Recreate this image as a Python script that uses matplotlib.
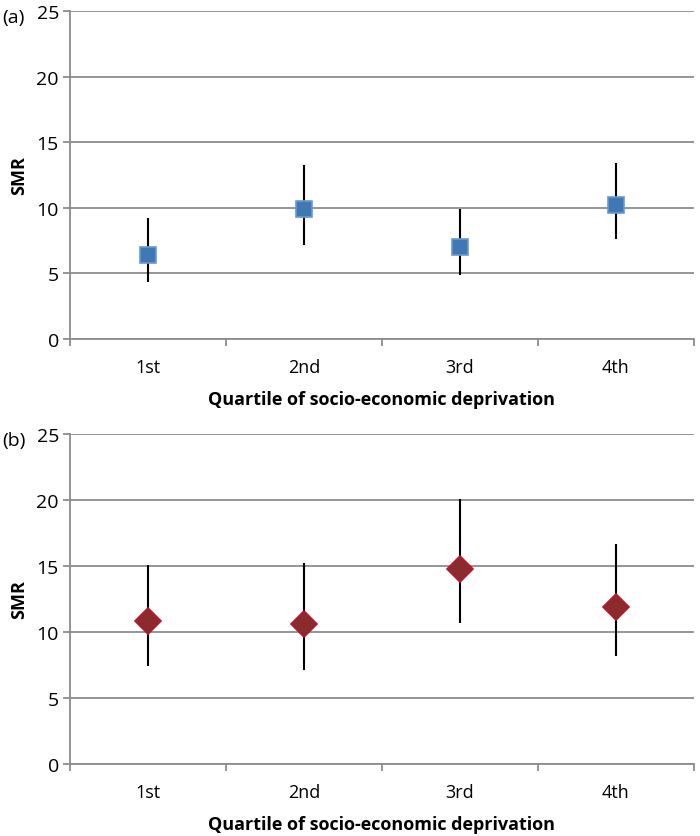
import matplotlib.pyplot as plt
import numpy as np
from matplotlib.ticker import FixedLocator

plt.rcParams['font.family'] = ['Open Sans', 'DejaVu Sans']

quartiles = ['1st', '2nd', '3rd', '4th']

# panel (a)
smr_a = [6.4, 9.9, 7.0, 10.2]
lo_a = [4.35, 7.2, 4.9, 7.6]
hi_a = [9.2, 13.3, 9.9, 13.4]

# panel (b)
smr_b = [10.8, 10.6, 14.8, 11.9]
lo_b = [7.45, 7.15, 10.7, 8.2]
hi_b = [15.1, 15.2, 20.1, 16.7]

grid_col = '#8c8c8c'

fig = plt.figure(figsize=(7, 8.37), dpi=100)
W, H = 700, 837

def make_panel(top, bottom, smr, lo, hi, marker, ms, face, edge, tag):
    ax = fig.add_axes([70 / W, 1 - bottom / H, (694 - 70) / W, (bottom - top) / H])
    x = np.arange(len(quartiles))
    smr = np.array(smr)
    yerr = [smr - np.array(lo), np.array(hi) - smr]
    ax.errorbar(x, smr, yerr=yerr, fmt='none', ecolor='black', elinewidth=1.5, capsize=0, zorder=3)
    ax.plot(x, smr, linestyle='none', marker=marker, markersize=ms,
            markerfacecolor=face, markeredgecolor=edge, markeredgewidth=1.2, zorder=4)
    ax.set_xlim(-0.5, len(quartiles) - 0.5)
    ax.set_ylim(0, 25)
    ax.set_yticks([0, 5, 10, 15, 20, 25])
    ax.yaxis.grid(True, color=grid_col, linewidth=1.3)
    ax.set_axisbelow(True)
    ax.set_xticks(x)
    ax.set_xticklabels(quartiles, fontsize=13)
    ax.xaxis.set_minor_locator(FixedLocator(np.arange(-0.5, len(quartiles), 1.0)))
    ax.tick_params(axis='x', which='major', length=0, pad=14)
    ax.tick_params(axis='x', which='minor', length=5, color=grid_col, width=1.3)
    ax.tick_params(axis='y', length=5, color=grid_col, width=1.3, labelsize=14, pad=3)
    for s in ['top', 'right']:
        ax.spines[s].set_visible(False)
    for s in ['left', 'bottom']:
        ax.spines[s].set_color(grid_col)
        ax.spines[s].set_linewidth(1.3)
    ax.set_ylabel('SMR', fontsize=13, fontweight='bold', labelpad=6)
    ax.set_xlabel('Quartile of socio-economic deprivation', fontsize=13, fontweight='bold', labelpad=10)
    fig.text(2 / W, 1 - (top + 6) / H, tag, fontsize=14, ha='left', va='center')
    return ax

make_panel(12, 340, smr_a, lo_a, hi_a, 's', 12, '#3f78b5', '#6a9ad0', '(a)')
make_panel(435, 765, smr_b, lo_b, hi_b, 'D', 13, '#8b2b2e', '#b8182b', '(b)')

fig.savefig('out.png', dpi=100, facecolor='white')
